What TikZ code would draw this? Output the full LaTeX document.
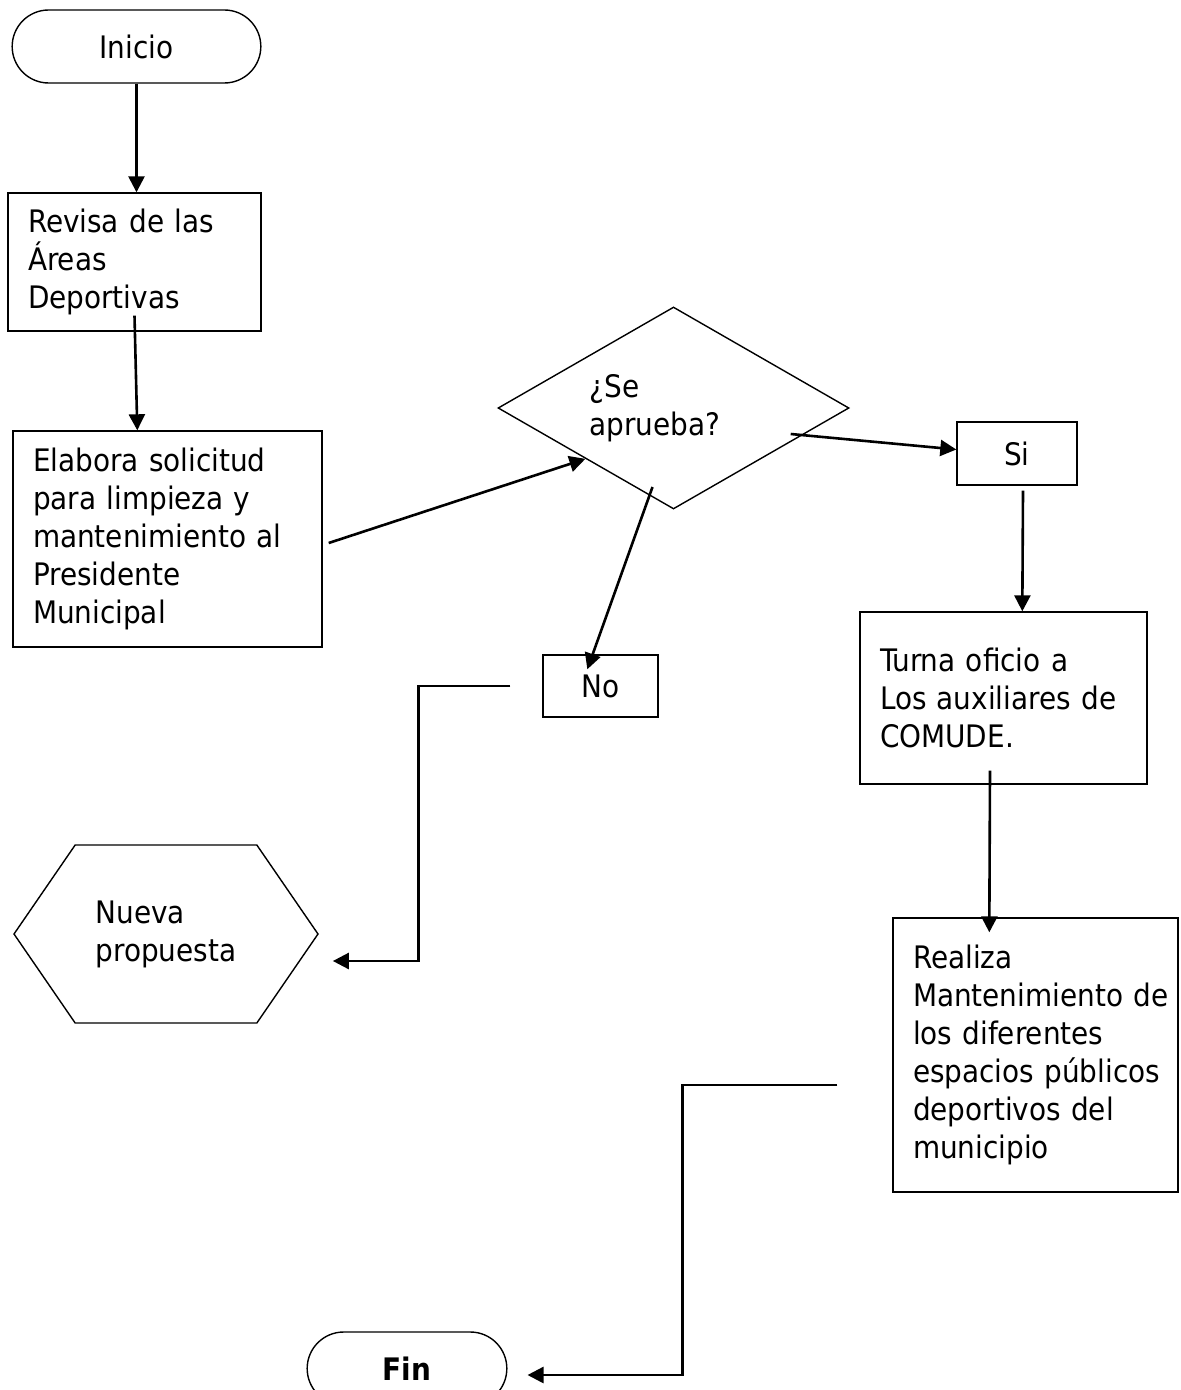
\documentclass[tikz,border=0pt]{standalone}
\usepackage{fontspec}
\setmainfont{DejaVu Sans Condensed}
\usetikzlibrary{shapes.geometric,shapes.misc,shapes.symbols,arrows.meta,calc}

\begin{document}
\begin{tikzpicture}[x=0.5pt,y=-0.5pt,
        font=\fontsize{15.5}{19}\selectfont,
        caja/.style={draw, line width=0.7pt, rectangle, inner xsep=10pt, inner ysep=0pt, align=left,
            execute at begin node={\hyphenpenalty=10000\exhyphenpenalty=10000}},
        terminal/.style={draw, line width=0.7pt, rounded rectangle, minimum height=36.5pt},
        flecha/.style={line width=1.3pt, -{Triangle[length=8pt,width=8pt]}}]
        \useasboundingbox (0,0) rectangle (1180,1390);

        % Inicio and left column
        \node[terminal, minimum width=131pt] (inicio) at (136.5,46.5) {Inicio};
        \node[caja, text width=106.5pt, minimum height=69pt] (revisa) at (134.5,262) {Revisa~de~las\\Áreas\\Deportivas};
        \node[caja, text width=134.5pt, minimum height=108pt] (elabora) at (167.5,539) {Elabora~solicitud\\para~limpieza~y\\mantenimiento~al\\Presidente\\Municipal};

        % Decision
        \node[draw, line width=0.7pt, diamond, aspect=1.74, minimum width=175.5pt, minimum height=101pt, text width=84pt, align=left] (pregunta) at (673.5,408) {¿Se\\aprueba?};
        \node[caja, minimum width=60pt, minimum height=31.5pt] (si) at (1017,453.5) {Si};
        \node[caja, minimum width=57.5pt, minimum height=31pt] (no) at (600.5,686) {No};

        % Right column
        \node[caja, text width=123.5pt, minimum height=86pt] (turna) at (1003.5,698) {Turna~oficio~a\\Los~auxiliares~de\\COMUDE.};
        \node[caja, text width=122.5pt, minimum height=137pt] (realiza) at (1035.5,1055) {Realiza\\Mantenimiento~de\\los~diferentes\\espacios~públicos\\deportivos~del\\municipio};

        % Nueva propuesta and Fin
        \node[draw, line width=0.7pt, signal, signal to=west and east, signal pointer angle=111, minimum width=152pt, minimum height=89pt, align=left] (nueva) at (166,934) {Nueva\\propuesta};
        \node[terminal, minimum width=106.5pt, font=\fontsize{15.5}{19}\selectfont\bfseries] (fin) at (407,1368.5) {Fin};

        % Connectors
        \draw[flecha] (inicio.south) -- (inicio.south |- revisa.north);
        \draw[flecha] ($(revisa.south)+(0,-16)$) -- ($(elabora.north west)+(125,0)$);
        \draw[flecha] ($(elabora.east)+(6,4)$) -- (pregunta.south west);
        \draw[flecha] ($(pregunta.east)+(-59,26)$) -- ($(si.west)+(0,-4)$);
        \draw[flecha] ($(pregunta.center)+(-21,79)$) -- ($(no.north west)+(45,15)$);
        \draw[flecha] ($(si.south)+(6,5)$) -- ($(turna.north west)+(163,0)$);
        \draw[flecha] ($(turna.south)+(-13.5,-14)$) -- ($(realiza.north west)+(97,15)$);
        \draw[flecha] ($(no.west)+(-32,0)$) -- ++(-92,0) |- ($(nueva.east)+(14,27)$);
        \draw[flecha] ($(realiza.west)+(-55,30)$) -- ++(-155,0) |- ($(fin.east)+(20,6.5)$);
    \end{tikzpicture}
\end{document}
